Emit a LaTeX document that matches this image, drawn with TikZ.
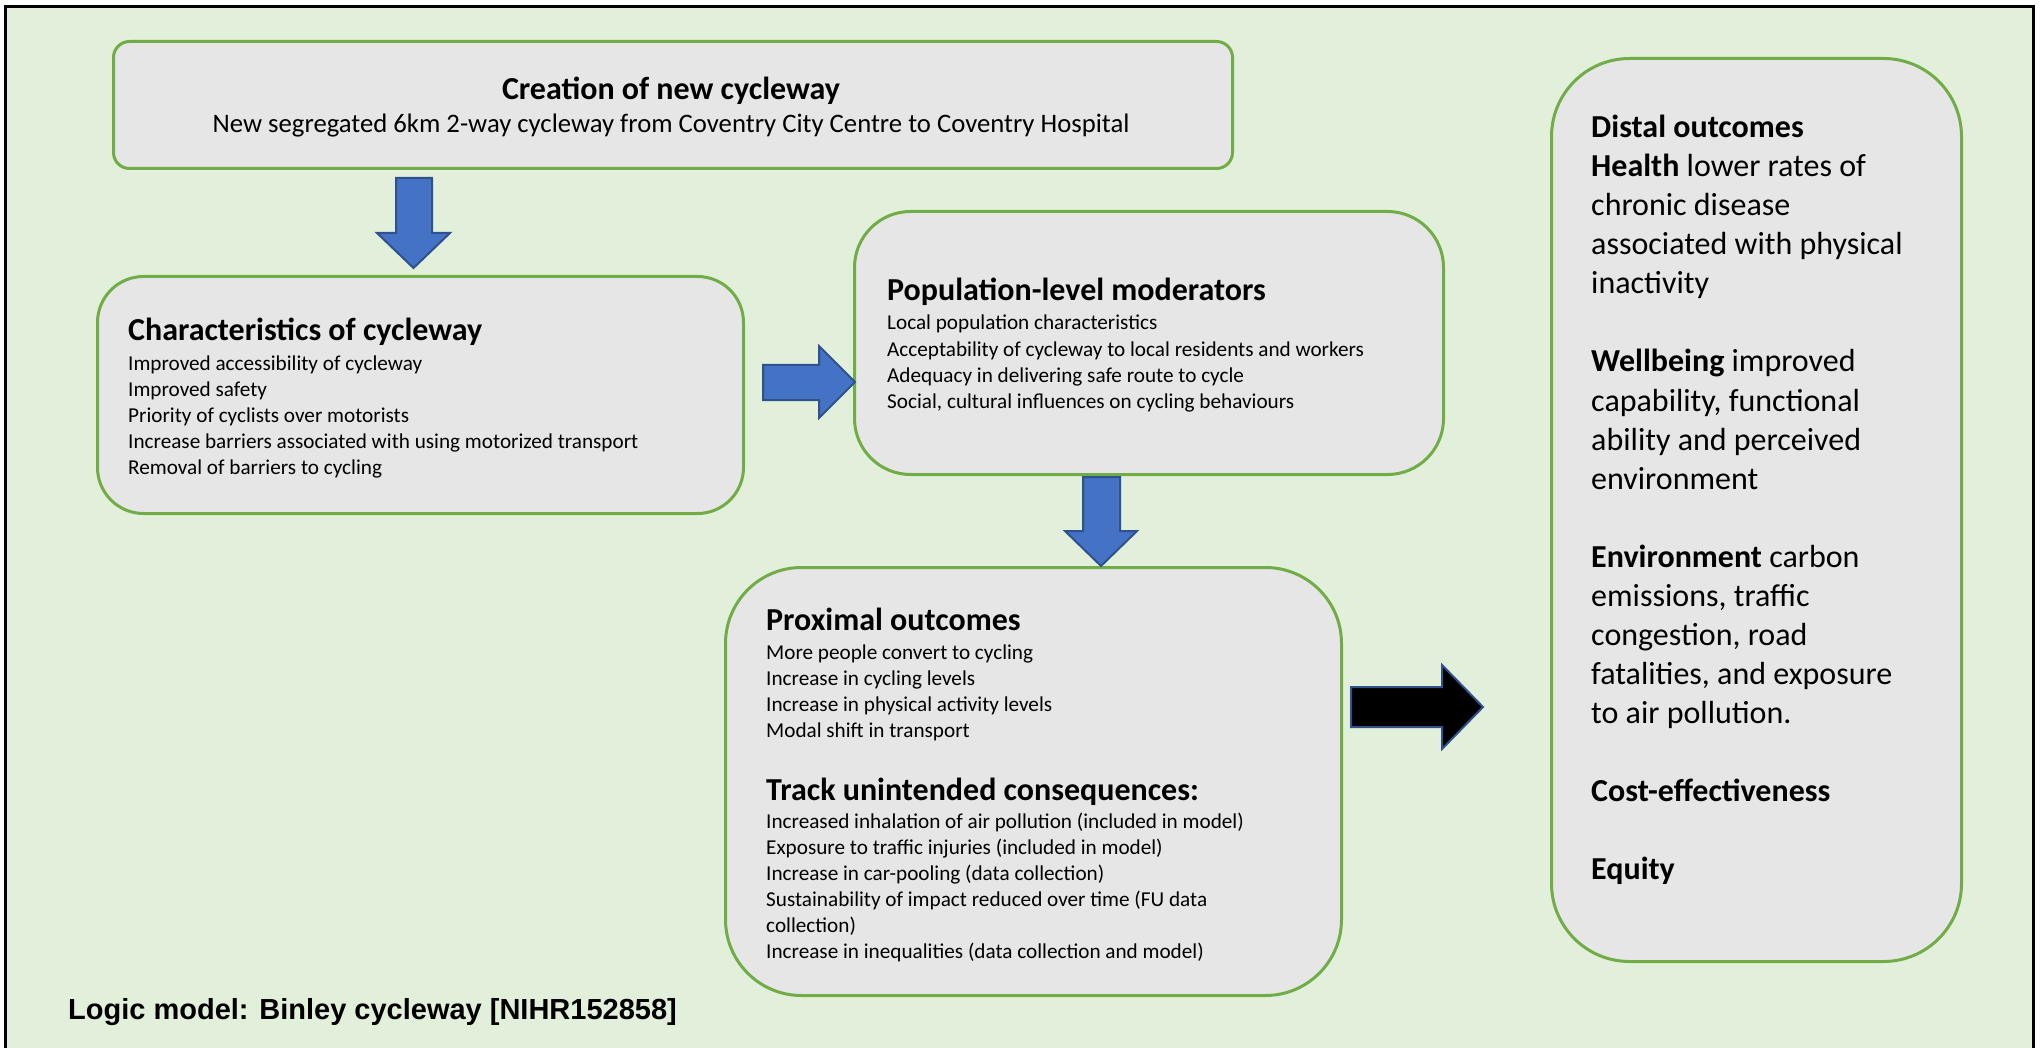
\documentclass[tikz,border=0pt]{standalone}
\usepackage{fontspec}
\setmainfont{Carlito}
\newfontfamily\captionfont{Liberation Sans}

\definecolor{panelgreen}{HTML}{E2EFDA}
\definecolor{boxgrey}{HTML}{E7E6E6}
\definecolor{boxgreen}{HTML}{70AD47}
\definecolor{arrowblue}{HTML}{4472C4}
\definecolor{arrowedge}{HTML}{2F528F}

\tikzset{
  stage box/.style={
    draw=boxgreen,
    fill=boxgrey,
    line width=3pt,
    anchor=north west,
    inner sep=0pt
  },
  stage title/.style={
    anchor=base west,
    inner sep=0pt,
    font=\fontsize{32}{38}\selectfont\bfseries
  },
  stage item/.style={
    anchor=base west,
    inner sep=0pt,
    font=\fontsize{21.2}{26}\selectfont
  },
  distal item/.style={
    anchor=base west,
    inner sep=0pt,
    font=\fontsize{32}{39}\selectfont
  },
  block arrow/.style={
    fill=arrowblue,
    draw=arrowedge,
    line width=2pt,
    line join=miter
  },
}

\begin{document}
\begin{tikzpicture}[x=1pt, y=-1pt]

  \useasboundingbox (0,0) rectangle (2042,1048);
  \clip (0,0) rectangle (2042,1048);
  \fill [white] (0,0) rectangle (2042,1048);
  \draw [line width=3pt, fill=panelgreen] (5,7) rectangle (2033,1070);

  % boxes
  \node [stage box, rounded corners=16pt, minimum width=1119pt, minimum height=127pt] (creation) at (112,40) {};
  \node [stage box, rounded corners=46pt, minimum width=646pt, minimum height=237pt] (features) at (96,275) {};
  \node [stage box, rounded corners=56pt, minimum width=589pt, minimum height=263pt] (moderators) at (853,210) {};
  \node [stage box, rounded corners=76pt, minimum width=616pt, minimum height=428pt] (proximal) at (724,566) {};
  \node [stage box, rounded corners=78pt, minimum width=410pt, minimum height=903pt] (distal) at (1550,57) {};

  % creation of cycleway
  \node [stage title, anchor=base] (creation-title) at (671,100) {Creation of new cycleway};
  \node [stage item, anchor=base, font=\fontsize{26.7}{32}\selectfont] (creation-text) at (671,133)
    {New segregated 6km 2-way cycleway from Coventry City Centre to Coventry Hospital};

  % characteristics
  \node [stage title] (features-title) at (128,341) {Characteristics of cycleway};
  \foreach \t [count=\i from 0] in {Improved accessibility of cycleway, Improved safety,
      Priority of cyclists over motorists,
      Increase barriers associated with using motorized transport,
      Removal of barriers to cycling}
    \node [stage item] (features-\i) at (128,370.5+\i*26) {\t};

  % moderators
  \node [stage title] (moderators-title) at (887,301) {Population-level moderators};
  \foreach \t [count=\i from 0] in {Local population characteristics,
      Acceptability of cycleway to local residents and workers,
      Adequacy in delivering safe route to cycle,
      {Social, cultural influences on cycling behaviours}}
    \node [stage item] (moderators-\i) at (887,330+\i*26) {\t};

  % proximal outcomes
  \node [stage title] (proximal-title) at (766,630) {Proximal outcomes};
  \foreach \t [count=\i from 0] in {More people convert to cycling, Increase in cycling levels,
      Increase in physical activity levels, Modal shift in transport}
    \node [stage item] (proximal-\i) at (766,659.5+\i*26) {\t};

  \node [stage title] (track-title) at (766,800) {Track unintended consequences:};
  \foreach \t [count=\i from 0] in {Increased inhalation of air pollution (included in model),
      Exposure to traffic injuries (included in model),
      Increase in car-pooling (data collection),
      Sustainability of impact reduced over time (FU data,
      collection),
      Increase in inequalities (data collection and model)}
    \node [stage item] (track-\i) at (766,828.5+\i*26) {\t};

  % distal outcomes
  \foreach \k/\t in {0/{\textbf{Distal outcomes}}, 1/{\textbf{Health} lower rates of},
      2/{chronic disease}, 3/{associated with physical}, 4/{inactivity},
      6/{\textbf{Wellbeing} improved}, 7/{capability, functional},
      8/{ability and perceived}, 9/{environment},
      11/{\textbf{Environment} carbon}, 12/{emissions, traffic},
      13/{congestion, road}, 14/{fatalities, and exposure},
      15/{to air pollution.}, 17/{\textbf{Cost-effectiveness}}, 19/{\textbf{Equity}}}
    \node [distal item] (distal-\k) at (1591,138+\k*39) {\t};

  % block arrows
  \draw [block arrow] (396,178) -- (432,178) -- (432,233) -- (450,233)
    -- (413.5,268) -- (377,233) -- (396,233) -- cycle;
  \draw [block arrow] (763,365) -- (819,365) -- (819,346) -- (855,382)
    -- (819,418) -- (819,400) -- (763,400) -- cycle;
  \draw [block arrow] (1083,477) -- (1120,477) -- (1120,531) -- (1137,531)
    -- (1101,566) -- (1065,531) -- (1083,531) -- cycle;
  \draw [block arrow, fill=black] (1351,687) -- (1442,687) -- (1442,665) -- (1483,707)
    -- (1442,749) -- (1442,727) -- (1351,727) -- cycle;

  \node [anchor=base west, inner sep=0pt, font=\captionfont\bfseries\fontsize{29}{34}\selectfont]
    (caption) at (68,1019) {Logic model: Binley cycleway [NIHR152858]};

\end{tikzpicture}
\end{document}
